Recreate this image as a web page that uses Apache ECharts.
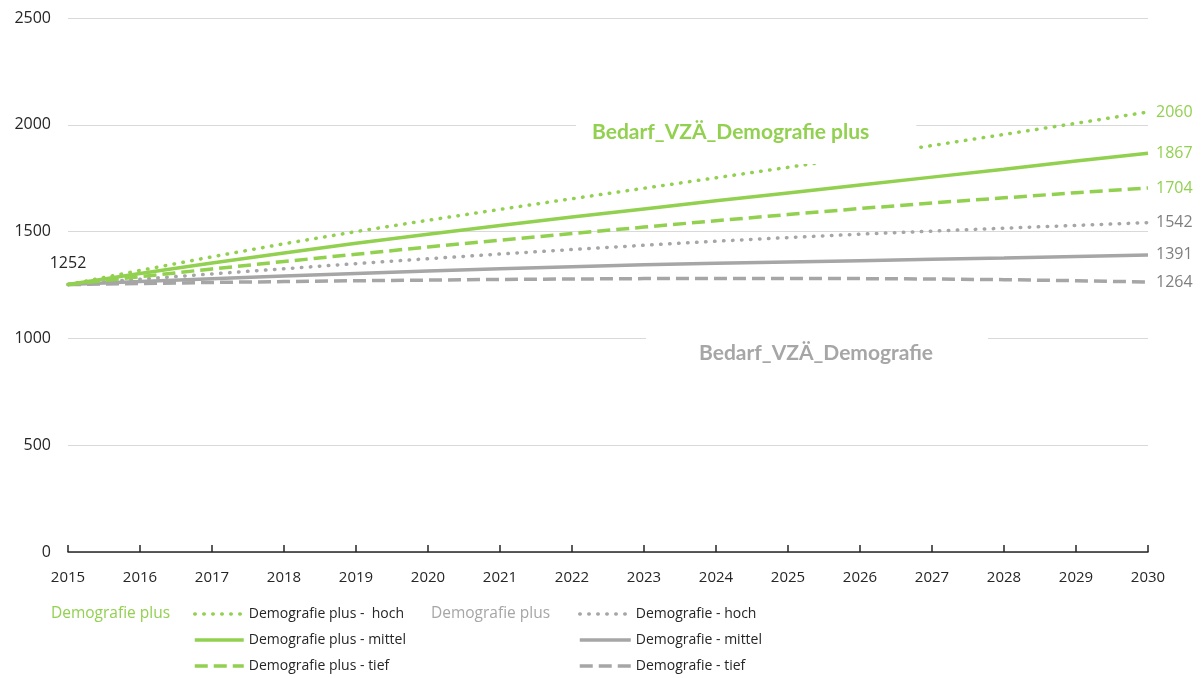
<!DOCTYPE html>
<html>
<head>
<meta charset="utf-8">
<title>Bedarf VZÄ Demografie</title>
<script src="https://cdn.jsdelivr.net/npm/echarts@6/dist/echarts.min.js"></script>
<style>
  html, body { margin: 0; padding: 0; background: #ffffff; }
  #chart { width: 1202px; height: 678px; }
</style>
</head>
<body>
<div id="chart"></div>
<script>
// Jahre auf der x-Achse
const years = ['2015','2016','2017','2018','2019','2020','2021','2022','2023','2024','2025','2026','2027','2028','2029','2030'];

// Bedarf VZÄ – Szenario "Demografie plus"
const plusHoch   = [1252, 1318, 1382, 1443, 1500, 1553, 1604, 1654, 1703, 1752, 1801, 1851, 1903, 1955, 2007, 2060];
const plusMittel = [1252, 1304, 1353, 1400, 1445, 1488, 1529, 1568, 1606, 1644, 1681, 1718, 1755, 1792, 1830, 1867];
const plusTief   = [1252, 1289, 1325, 1360, 1394, 1428, 1460, 1491, 1521, 1551, 1580, 1608, 1634, 1658, 1682, 1704];

// Bedarf VZÄ – Szenario "Demografie"
const demoHoch   = [1252, 1277, 1302, 1326, 1350, 1373, 1395, 1416, 1436, 1455, 1472, 1488, 1502, 1516, 1529, 1542];
const demoMittel = [1252, 1266, 1279, 1292, 1304, 1315, 1326, 1336, 1345, 1352, 1358, 1364, 1370, 1376, 1384, 1391];
const demoTief   = [1252, 1257, 1262, 1266, 1270, 1273, 1276, 1278, 1280, 1281, 1281, 1280, 1278, 1275, 1270, 1264];

// y-Achse
const yMin = 0, yMax = 2500, yStep = 500;

const GREEN = '#92D050';
const GREY = '#A6A6A6';
const GREY_TEXT = '#7F7F7F';
const FONT = '"Open Sans", "Liberation Sans", sans-serif';
const TITLE_FONT = 'Lato, "Open Sans", sans-serif';

const DOTS = [0.5, 8.5];
const DASH = [13, 6];

function makeSeries(name, values, color, labelColor, dash, width, startLabel) {
  const s = {
    name: name,
    type: 'line',
    data: values,
    symbol: 'none',
    smooth: false,
    lineStyle: { color: color, width: width, type: dash, cap: dash === DOTS ? 'round' : 'butt' },
    itemStyle: { color: color },
    endLabel: {
      show: true,
      formatter: p => String(p.value),
      color: labelColor,
      fontSize: 16,
      fontFamily: FONT,
      distance: 8
    },
    z: 3
  };
  if (startLabel) {
    // Startwert 2015 über dem gemeinsamen Ausgangspunkt
    s.markPoint = {
      symbol: 'circle',
      symbolSize: 0,
      silent: true,
      data: [{ coord: [years[0], values[0]], value: values[0] }],
      label: {
        show: true, position: 'top', distance: 13,
        formatter: p => String(p.value),
        color: '#262626', fontSize: 16, fontFamily: FONT
      }
    };
  }
  return s;
}

const series = [
  makeSeries('Demografie - hoch', demoHoch, GREY, GREY_TEXT, DOTS, 3.5, false),
  makeSeries('Demografie - mittel', demoMittel, GREY, GREY_TEXT, 'solid', 3.5, false),
  makeSeries('Demografie - tief', demoTief, GREY, GREY_TEXT, DASH, 3.5, false),
  makeSeries('Demografie plus -  hoch', plusHoch, GREEN, GREEN, DOTS, 3.5, false),
  makeSeries('Demografie plus - mittel', plusMittel, GREEN, GREEN, 'solid', 3.5, true),
  makeSeries('Demografie plus - tief', plusTief, GREEN, GREEN, DASH, 3.5, false)
];

const chart = echarts.init(document.getElementById('chart'), null, { renderer: 'canvas' });

const legendCommon = {
  orient: 'vertical',
  top: 607, padding: 0,
  itemHeight: 14, itemGap: 12,
  itemStyle: { opacity: 0 },
  lineStyle: { width: 3.5 },
  textStyle: { color: '#262626', fontSize: 14, fontFamily: FONT },
  selectedMode: false
};

chart.setOption({
  animation: false,
  backgroundColor: '#ffffff',
  textStyle: { fontFamily: FONT },
  grid: { left: 68, right: 54, top: 18, bottom: 126, containLabel: false },
  title: [
    {
      text: 'Bedarf_VZÄ_Demografie plus',
      left: 576, top: 104,
      padding: [16, 47, 20, 16],
      backgroundColor: '#ffffff',
      textStyle: { color: GREEN, fontSize: 21, fontWeight: 'bold', fontFamily: TITLE_FONT, lineHeight: 24 },
      z: 6
    },
    {
      text: 'Bedarf_VZÄ_Demografie',
      left: 646, top: 325,
      padding: [16, 55, 16, 53],
      backgroundColor: '#ffffff',
      textStyle: { color: GREY, fontSize: 21, fontWeight: 'bold', fontFamily: TITLE_FONT, lineHeight: 24 },
      z: 6
    },
    {
      text: 'Demografie plus',
      left: 51, top: 605, padding: 0,
      textStyle: { color: GREEN, fontSize: 15.5, fontWeight: 'normal', fontFamily: FONT, lineHeight: 18 }
    },
    {
      text: 'Demografie plus',
      left: 431, top: 605, padding: 0,
      textStyle: { color: GREY, fontSize: 15.5, fontWeight: 'normal', fontFamily: FONT, lineHeight: 18 }
    }
  ],
  legend: [
    Object.assign({}, legendCommon, {
      data: ['Demografie plus -  hoch', 'Demografie plus - mittel', 'Demografie plus - tief'],
      left: 193, itemWidth: 49
    }),
    Object.assign({}, legendCommon, {
      data: ['Demografie - hoch', 'Demografie - mittel', 'Demografie - tief'],
      left: 578, itemWidth: 51
    })
  ],
  xAxis: {
    type: 'category',
    data: years,
    boundaryGap: false,
    axisLine: { show: true, lineStyle: { color: '#262626', width: 1.5 } },
    axisTick: { show: true, inside: true, length: 7, alignWithLabel: true, lineStyle: { color: '#262626', width: 1.5 } },
    axisLabel: { color: '#262626', fontSize: 15, fontFamily: FONT, margin: 18 },
    splitLine: { show: false }
  },
  yAxis: {
    type: 'value',
    min: yMin, max: yMax, interval: yStep,
    axisLine: { show: false },
    axisTick: { show: false },
    axisLabel: { color: '#262626', fontSize: 16, fontFamily: FONT, margin: 17, formatter: v => String(v) },
    splitLine: { show: true, lineStyle: { color: '#D9D9D9', width: 1 } }
  },
  series: series
});
</script>
</body>
</html>
